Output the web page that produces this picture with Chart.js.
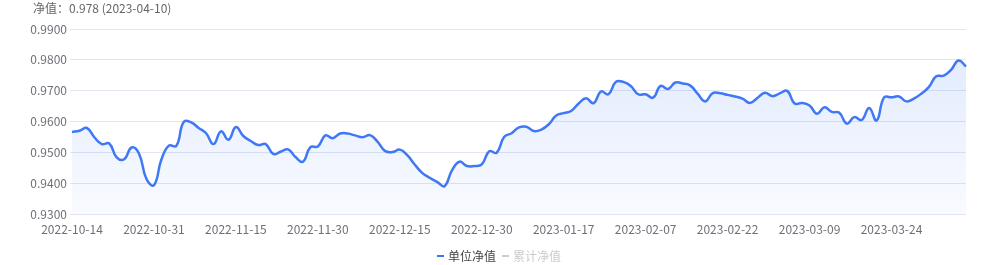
<!DOCTYPE html>
<html>
<head>
<meta charset="utf-8">
<script src="https://cdn.jsdelivr.net/npm/chart.js@4/dist/chart.umd.min.js"></script>
<style>
  html, body { margin:0; padding:0; background:#fff; }
  #wrap { width:1000px; height:265px; position:relative; }
</style>
</head>
<body>
<div id="wrap"><canvas id="nav-chart"></canvas></div>
<script>
// trading days shown on the x axis
const dates = [
  "2022-10-14",
  "2022-10-17","2022-10-18","2022-10-19","2022-10-20","2022-10-21","2022-10-24","2022-10-25","2022-10-26","2022-10-27","2022-10-28","2022-10-31",
  "2022-11-01","2022-11-02","2022-11-03","2022-11-04","2022-11-07","2022-11-08","2022-11-09","2022-11-10","2022-11-11","2022-11-14","2022-11-15",
  "2022-11-16","2022-11-17","2022-11-18","2022-11-21","2022-11-22","2022-11-23","2022-11-24","2022-11-25","2022-11-28","2022-11-29","2022-11-30",
  "2022-12-01","2022-12-02","2022-12-05","2022-12-06","2022-12-07","2022-12-08","2022-12-09","2022-12-12","2022-12-13","2022-12-14","2022-12-15",
  "2022-12-16","2022-12-19","2022-12-20","2022-12-21","2022-12-22","2022-12-23","2022-12-26","2022-12-27","2022-12-28","2022-12-29","2022-12-30",
  "2023-01-03","2023-01-04","2023-01-05","2023-01-06","2023-01-09","2023-01-10","2023-01-11","2023-01-12","2023-01-13","2023-01-16","2023-01-17",
  "2023-01-18","2023-01-19","2023-01-20","2023-01-28","2023-01-30","2023-01-31","2023-02-01","2023-02-02","2023-02-03","2023-02-06","2023-02-07",
  "2023-02-08","2023-02-09","2023-02-10","2023-02-13","2023-02-14","2023-02-15","2023-02-16","2023-02-17","2023-02-20","2023-02-21","2023-02-22",
  "2023-02-23","2023-02-24","2023-02-27","2023-02-28","2023-03-01","2023-03-02","2023-03-03","2023-03-06","2023-03-07","2023-03-08","2023-03-09",
  "2023-03-10","2023-03-13","2023-03-14","2023-03-15","2023-03-16","2023-03-17","2023-03-20","2023-03-21","2023-03-22","2023-03-23","2023-03-24",
  "2023-03-27","2023-03-28","2023-03-29","2023-03-30","2023-03-31","2023-04-03","2023-04-04","2023-04-06","2023-04-07","2023-04-10"
];

// 单位净值 (unit NAV)
const unitNav = [
  0.9567,
  0.9571,0.9580,0.9550,0.9528,0.9530,0.9485,0.9479,0.9517,0.9497,0.9415,0.9395,
  0.9478,0.9523,0.9522,0.9600,0.9598,0.9580,0.9563,0.9528,0.9569,0.9542,0.9583,
  0.9554,0.9538,0.9525,0.9528,0.9496,0.9503,0.9511,0.9486,0.9471,0.9518,0.9520,
  0.9556,0.9547,0.9562,0.9562,0.9556,0.9550,0.9557,0.9536,0.9506,0.9502,0.9510,
  0.9492,0.9462,0.9435,0.9419,0.9406,0.9392,0.9443,0.9471,0.9457,0.9457,0.9462,
  0.9505,0.9500,0.9551,0.9563,0.9582,0.9584,0.9570,0.9575,0.9592,0.9620,0.9628,
  0.9635,0.9659,0.9676,0.9660,0.9698,0.9689,0.9729,0.9729,0.9716,0.9689,0.9689,
  0.9678,0.9716,0.9706,0.9727,0.9724,0.9717,0.9690,0.9666,0.9693,0.9692,0.9687,
  0.9682,0.9675,0.9661,0.9677,0.9694,0.9683,0.9692,0.9700,0.9659,0.9661,0.9653,
  0.9626,0.9647,0.9632,0.9629,0.9594,0.9615,0.9606,0.9645,0.9604,0.9679,0.9679,
  0.9682,0.9666,0.9675,0.9691,0.9712,0.9747,0.9749,0.9768,0.9798,0.9779
];

// 累计净值 is switched off in the legend, so it has no points drawn
const accNav = [];

const yMin = 0.93, yMax = 0.99, yStep = 0.01;
const labelEvery = 11;

const FONT = "'Noto Sans CJK SC','Noto Sans',sans-serif";
const BLUE = "#3f78f5";
const TICK = "#6e7079";
const GRID = "#e0e6f1";

const lastIdx = unitNav.length - 1;
const titleText = "净值：" + unitNav[lastIdx].toFixed(3) + " (" + dates[lastIdx] + ")";

function areaFill(ctx){
  const chart = ctx.chart;
  const ca = chart.chartArea;
  if(!ca) return "rgba(63,120,245,0.08)";
  const g = chart.ctx.createLinearGradient(0, ca.top, 0, ca.bottom);
  g.addColorStop(0, "rgba(63,120,245,0.17)");
  g.addColorStop(1, "rgba(63,120,245,0.03)");
  return g;
}

// header text in the top-left corner
const headerText = {
  id: "headerText",
  afterDraw(chart){
    const c = chart.ctx;
    c.save();
    c.font = "12px " + FONT;
    c.fillStyle = "#666";
    c.textAlign = "left"; c.textBaseline = "middle";
    c.fillText(titleText, 33, 8);
    c.restore();
  }
};

new Chart(document.getElementById("nav-chart"), {
  type: "line",
  data: {
    labels: dates,
    datasets: [
      { label:"单位净值", data: unitNav, borderColor: BLUE, borderWidth: 2.5,
        backgroundColor: areaFill, fill: "start", pointRadius: 0, tension: 0.45 },
      { label:"累计净值", data: accNav, borderColor: "#cccccc", hidden: true, pointRadius: 0 }
    ]
  },
  options: {
    responsive: true, maintainAspectRatio: false, animation: false,
    layout: { padding: { left: 0, right: 0, top: 29, bottom: -7 } },
    plugins: {
      legend: {
        position: "bottom",
        labels: {
          font: { family: FONT, size: 12 },
          usePointStyle: true, pointStyle: "line", boxWidth: 3, boxHeight: 5, padding: 8,
          generateLabels(chart){
            return chart.data.datasets.map((ds, i) => {
              const on = chart.isDatasetVisible(i);
              return {
                text: ds.label, datasetIndex: i, hidden: false,
                fontColor: on ? "#444" : "#ccc",
                strokeStyle: on ? ds.borderColor : "#ccc",
                fillStyle: on ? ds.borderColor : "#ccc",
                lineWidth: 2, pointStyle: "line"
              };
            });
          }
        }
      },
      tooltip: { enabled: false }
    },
    scales: {
      x: {
        grid: { display: false }, border: { display: false },
        ticks: { autoSkip: false, maxRotation: 0, color: TICK, padding: 0,
          font: { family: FONT, size: 12 },
          callback: (v, i) => i % labelEvery === 0 ? dates[i] : null },
        afterFit(scale){ scale.height += 5; }
      },
      y: {
        min: yMin, max: yMax,
        grid: { color: GRID, tickLength: 2, tickColor: GRID },
        border: { display: false },
        ticks: { stepSize: yStep, color: TICK, padding: 3,
          font: { family: FONT, size: 12 },
          callback: v => Number(v).toFixed(4) },
        afterFit(scale){ scale.width = 72; }
      },
      // empty right margin, keeps the legend centred on the page
      yRight: {
        position: "right", display: true,
        grid: { display: false }, border: { display: false },
        ticks: { display: false },
        afterFit(scale){ scale.width = 34; }
      }
    }
  },
  plugins: [headerText]
});
</script>
</body>
</html>
